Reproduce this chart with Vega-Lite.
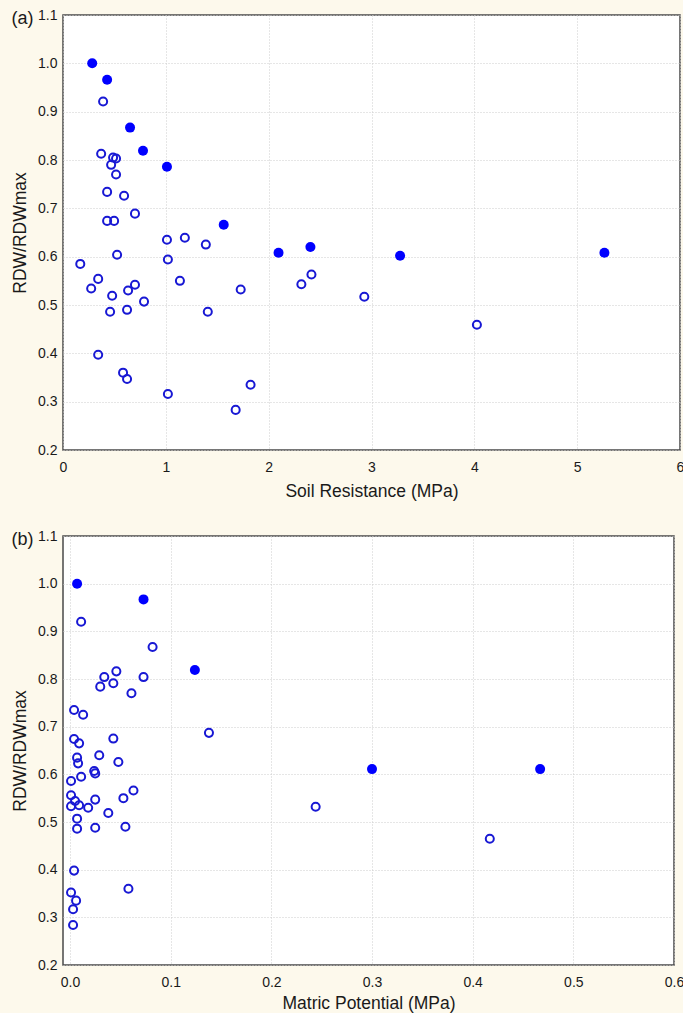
{
  "$schema": "https://vega.github.io/schema/vega-lite/v6.json",
  "background": "#FDF9EC",
  "padding": {"left": 10, "top": 7, "right": 0, "bottom": 0},
  "spacing": 27,
  "datasets": {
    "a": [
      {"x": 0.39, "y": 0.921, "kind": "open"},
      {"x": 0.371, "y": 0.813, "kind": "open"},
      {"x": 0.487, "y": 0.805, "kind": "open"},
      {"x": 0.516, "y": 0.803, "kind": "open"},
      {"x": 0.468, "y": 0.79, "kind": "open"},
      {"x": 0.516, "y": 0.77, "kind": "open"},
      {"x": 0.429, "y": 0.734, "kind": "open"},
      {"x": 0.594, "y": 0.726, "kind": "open"},
      {"x": 0.7, "y": 0.689, "kind": "open"},
      {"x": 0.429, "y": 0.674, "kind": "open"},
      {"x": 0.497, "y": 0.674, "kind": "open"},
      {"x": 1.011, "y": 0.635, "kind": "open"},
      {"x": 1.185, "y": 0.639, "kind": "open"},
      {"x": 1.389, "y": 0.625, "kind": "open"},
      {"x": 0.168, "y": 0.585, "kind": "open"},
      {"x": 0.526, "y": 0.604, "kind": "open"},
      {"x": 1.02, "y": 0.594, "kind": "open"},
      {"x": 0.342, "y": 0.554, "kind": "open"},
      {"x": 0.274, "y": 0.534, "kind": "open"},
      {"x": 0.7, "y": 0.542, "kind": "open"},
      {"x": 0.633, "y": 0.53, "kind": "open"},
      {"x": 0.478, "y": 0.519, "kind": "open"},
      {"x": 1.137, "y": 0.55, "kind": "open"},
      {"x": 1.728, "y": 0.532, "kind": "open"},
      {"x": 0.788, "y": 0.507, "kind": "open"},
      {"x": 0.458, "y": 0.486, "kind": "open"},
      {"x": 0.623, "y": 0.49, "kind": "open"},
      {"x": 1.408, "y": 0.486, "kind": "open"},
      {"x": 0.342, "y": 0.397, "kind": "open"},
      {"x": 0.584, "y": 0.36, "kind": "open"},
      {"x": 0.623, "y": 0.347, "kind": "open"},
      {"x": 1.02, "y": 0.316, "kind": "open"},
      {"x": 1.824, "y": 0.335, "kind": "open"},
      {"x": 1.679, "y": 0.283, "kind": "open"},
      {"x": 2.318, "y": 0.543, "kind": "open"},
      {"x": 2.416, "y": 0.563, "kind": "open"},
      {"x": 2.93, "y": 0.517, "kind": "open"},
      {"x": 4.025, "y": 0.459, "kind": "open"},
      {"x": 0.284, "y": 1.0, "kind": "filled"},
      {"x": 0.429, "y": 0.966, "kind": "filled"},
      {"x": 0.652, "y": 0.867, "kind": "filled"},
      {"x": 0.778, "y": 0.819, "kind": "filled"},
      {"x": 1.011, "y": 0.786, "kind": "filled"},
      {"x": 1.563, "y": 0.666, "kind": "filled"},
      {"x": 2.096, "y": 0.608, "kind": "filled"},
      {"x": 2.406, "y": 0.62, "kind": "filled"},
      {"x": 3.278, "y": 0.602, "kind": "filled"},
      {"x": 5.265, "y": 0.608, "kind": "filled"}
    ],
    "b": [
      {"x": 0.011, "y": 0.92, "kind": "open"},
      {"x": 0.082, "y": 0.867, "kind": "open"},
      {"x": 0.046, "y": 0.816, "kind": "open"},
      {"x": 0.034, "y": 0.804, "kind": "open"},
      {"x": 0.073, "y": 0.804, "kind": "open"},
      {"x": 0.043, "y": 0.791, "kind": "open"},
      {"x": 0.03, "y": 0.784, "kind": "open"},
      {"x": 0.061, "y": 0.77, "kind": "open"},
      {"x": 0.004, "y": 0.735, "kind": "open"},
      {"x": 0.013, "y": 0.725, "kind": "open"},
      {"x": 0.004, "y": 0.674, "kind": "open"},
      {"x": 0.009, "y": 0.665, "kind": "open"},
      {"x": 0.043, "y": 0.675, "kind": "open"},
      {"x": 0.029, "y": 0.64, "kind": "open"},
      {"x": 0.007, "y": 0.635, "kind": "open"},
      {"x": 0.008, "y": 0.623, "kind": "open"},
      {"x": 0.048, "y": 0.626, "kind": "open"},
      {"x": 0.024, "y": 0.607, "kind": "open"},
      {"x": 0.025, "y": 0.602, "kind": "open"},
      {"x": 0.011, "y": 0.595, "kind": "open"},
      {"x": 0.001, "y": 0.586, "kind": "open"},
      {"x": 0.001, "y": 0.556, "kind": "open"},
      {"x": 0.063, "y": 0.566, "kind": "open"},
      {"x": 0.053, "y": 0.55, "kind": "open"},
      {"x": 0.005, "y": 0.544, "kind": "open"},
      {"x": 0.025, "y": 0.547, "kind": "open"},
      {"x": 0.009, "y": 0.535, "kind": "open"},
      {"x": 0.018, "y": 0.53, "kind": "open"},
      {"x": 0.001, "y": 0.533, "kind": "open"},
      {"x": 0.038, "y": 0.519, "kind": "open"},
      {"x": 0.007, "y": 0.507, "kind": "open"},
      {"x": 0.007, "y": 0.486, "kind": "open"},
      {"x": 0.025, "y": 0.488, "kind": "open"},
      {"x": 0.055, "y": 0.49, "kind": "open"},
      {"x": 0.004, "y": 0.398, "kind": "open"},
      {"x": 0.058, "y": 0.36, "kind": "open"},
      {"x": 0.001, "y": 0.352, "kind": "open"},
      {"x": 0.006, "y": 0.335, "kind": "open"},
      {"x": 0.003, "y": 0.317, "kind": "open"},
      {"x": 0.003, "y": 0.284, "kind": "open"},
      {"x": 0.138, "y": 0.687, "kind": "open"},
      {"x": 0.244, "y": 0.532, "kind": "open"},
      {"x": 0.417, "y": 0.465, "kind": "open"},
      {"x": 0.007, "y": 1.0, "kind": "filled"},
      {"x": 0.073, "y": 0.967, "kind": "filled"},
      {"x": 0.124, "y": 0.819, "kind": "filled"},
      {"x": 0.3, "y": 0.611, "kind": "filled"},
      {"x": 0.467, "y": 0.611, "kind": "filled"}
    ]
  },
  "vconcat": [
    {
      "title": {"text": "(a)", "anchor": "start", "frame": "bounds", "offset": -34, "baseline": "alphabetic", "fontSize": 18, "font": "Liberation Sans", "fontWeight": "normal", "color": "#1a1a1a"},
      "width": 617,
      "height": 435,
      "data": {"name": "a"},
      "encoding": {
        "x": {"field": "x", "type": "quantitative", "scale": {"domain": [0, 6], "nice": false, "zero": false},
              "axis": {"values": [0, 1, 2, 3, 4, 5, 6], "format": "d", "title": "Soil Resistance (MPa)", "labelPadding": 10, "titlePadding": 8}},
        "y": {"field": "y", "type": "quantitative", "scale": {"domain": [0.2, 1.1], "nice": false, "zero": false},
              "axis": {"values": [0.2, 0.3, 0.4, 0.5, 0.6, 0.7, 0.8, 0.9, 1.0, 1.1], "format": ".1f", "title": "RDW/RDWmax", "labelPadding": 6, "titlePadding": 8}}
      },
      "layer": [
        {"transform": [{"filter": "datum.kind === 'open'"}], "mark": {"type": "point", "shape": "circle", "filled": false, "stroke": "#1818d4", "strokeWidth": 2, "size": 65, "opacity": 1}},
        {"transform": [{"filter": "datum.kind === 'filled'"}], "mark": {"type": "point", "shape": "circle", "filled": true, "fill": "#0000ff", "size": 100, "opacity": 1}}
      ]
    },
    {
      "title": {"text": "(b)", "anchor": "start", "frame": "bounds", "offset": -34, "baseline": "alphabetic", "fontSize": 18, "font": "Liberation Sans", "fontWeight": "normal", "color": "#1a1a1a"},
      "width": 611,
      "height": 429,
      "data": {"name": "b"},
      "encoding": {
        "x": {"field": "x", "type": "quantitative", "scale": {"domain": [-0.007, 0.6], "nice": false, "zero": false},
              "axis": {"values": [0, 0.1, 0.2, 0.3, 0.4, 0.5, 0.6], "format": ".1f", "title": "Matric Potential (MPa)", "labelPadding": 10, "titlePadding": 5}},
        "y": {"field": "y", "type": "quantitative", "scale": {"domain": [0.2, 1.1], "nice": false, "zero": false},
              "axis": {"values": [0.2, 0.3, 0.4, 0.5, 0.6, 0.7, 0.8, 0.9, 1.0, 1.1], "format": ".1f", "title": "RDW/RDWmax", "labelPadding": 6, "titlePadding": 8}}
      },
      "layer": [
        {"transform": [{"filter": "datum.kind === 'open'"}], "mark": {"type": "point", "shape": "circle", "filled": false, "stroke": "#1818d4", "strokeWidth": 2, "size": 65, "opacity": 1}},
        {"transform": [{"filter": "datum.kind === 'filled'"}], "mark": {"type": "point", "shape": "circle", "filled": true, "fill": "#0000ff", "size": 100, "opacity": 1}}
      ]
    }
  ],
  "config": {
    "view": {"stroke": "#4a4a4a", "strokeWidth": 1.5, "fill": "white"},
    "axis": {
      "domain": false,
      "ticks": false,
      "grid": true,
      "gridColor": "#cccccc",
      "gridDash": [1, 2],
      "gridWidth": 1,
      "labelFont": "Liberation Sans",
      "labelFontSize": 14,
      "labelColor": "#1a1a1a",
      "labelFlush": false,
      "labelOverlap": false,
      "titleFont": "Liberation Sans",
      "titleFontSize": 17.5,
      "titleFontWeight": "normal",
      "titleColor": "#1a1a1a"
    }
  }
}
